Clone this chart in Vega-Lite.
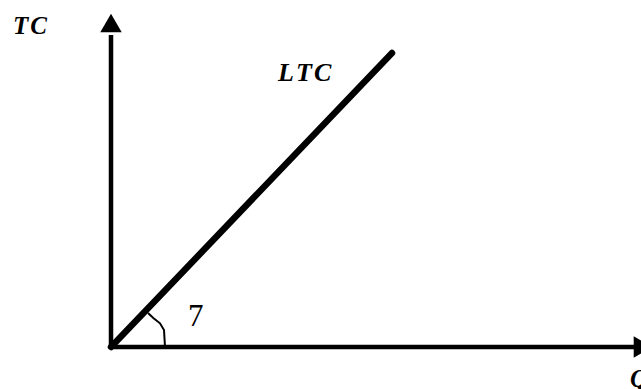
{
  "$schema": "https://vega.github.io/schema/vega-lite/v6.json",
  "width": 641,
  "height": 389,
  "padding": 0,
  "autosize": "none",
  "background": "white",
  "config": {"view": {"stroke": null}},
  "datasets": {
    "axes": [
      {"x": 0, "y": 0, "x2": 52.5, "y2": 0},
      {"x": 0, "y": 0, "x2": 0, "y2": 31.2}
    ],
    "ltc": [
      {"x": 0, "y": 0},
      {"x": 28.1, "y": 29.4}
    ],
    "arc": [
      {"i": 0, "x": 3.7, "y": 3.4},
      {"i": 1, "x": 4.23, "y": 2.9},
      {"i": 2, "x": 4.9, "y": 2.37},
      {"i": 3, "x": 5.3, "y": 1.7},
      {"i": 4, "x": 5.4, "y": 0.0}
    ],
    "heads": [
      {"x": 0, "y": 32.4, "shape": "triangle-up"},
      {"x": 53.2, "y": 0, "shape": "triangle-right"}
    ],
    "labels": [
      {"x": -9.8, "y": 31.3, "text": "T\u200aC", "kind": "bi", "size": 25},
      {"x": 16.7, "y": 26.6, "text": "L\u200aT\u200aC", "kind": "bi", "size": 26},
      {"x": 51.9, "y": -4.0, "text": "Q", "kind": "bi", "size": 25},
      {"x": 7.7, "y": 2.1, "text": "7", "kind": "r", "size": 31}
    ]
  },
  "encoding": {
    "x": {"field": "x", "type": "quantitative", "scale": {"domain": [-11.1, 53]}, "axis": null},
    "y": {"field": "y", "type": "quantitative", "scale": {"domain": [-4.2, 34.7]}, "axis": null}
  },
  "layer": [
    {
      "data": {"name": "axes"},
      "mark": {"type": "rule", "color": "black", "strokeWidth": 4.5, "strokeCap": "butt"},
      "encoding": {
        "x2": {"field": "x2"},
        "y2": {"field": "y2"}
      }
    },
    {
      "data": {"name": "heads"},
      "mark": {"type": "point", "filled": true, "color": "black", "opacity": 1, "size": 460},
      "encoding": {
        "shape": {"field": "shape", "type": "nominal", "scale": null}
      }
    },
    {
      "data": {"name": "ltc"},
      "mark": {"type": "line", "color": "black", "strokeWidth": 6.5, "strokeCap": "round"},
      "encoding": {}
    },
    {
      "data": {"name": "arc"},
      "mark": {"type": "line", "color": "black", "strokeWidth": 2},
      "encoding": {"order": {"field": "i", "type": "quantitative"}}
    },
    {
      "data": {"name": "labels"},
      "transform": [{"filter": "datum.kind == 'bi'"}],
      "mark": {"type": "text", "font": "Liberation Serif", "fontWeight": "bold", "fontStyle": "italic", "align": "left", "baseline": "alphabetic", "color": "black"},
      "encoding": {
        "text": {"field": "text"},
        "size": {"field": "size", "type": "quantitative", "scale": null}
      }
    },
    {
      "data": {"name": "labels"},
      "transform": [{"filter": "datum.kind == 'r'"}],
      "mark": {"type": "text", "font": "Liberation Serif", "align": "left", "baseline": "alphabetic", "color": "black"},
      "encoding": {
        "text": {"field": "text"},
        "size": {"field": "size", "type": "quantitative", "scale": null}
      }
    }
  ]
}
